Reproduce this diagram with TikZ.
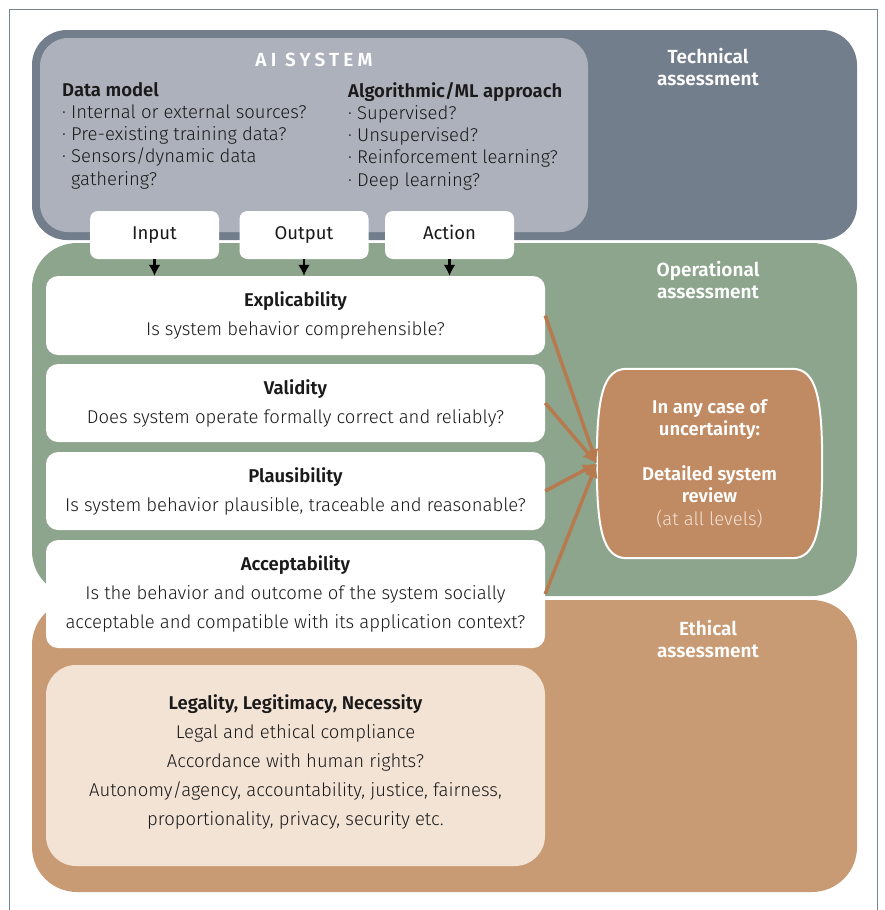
\documentclass[tikz,border=0pt]{standalone}
\usepackage{fontspec}
\setmainfont{Fira Sans}[UprightFont=* Light,BoldFont=* SemiBold]
\newfontfamily\plainfont{Fira Sans}
\usetikzlibrary{arrows.meta}

\definecolor{techgray}{HTML}{737E8C}
\definecolor{aigray}{HTML}{ADB1BC}
\definecolor{opgreen}{HTML}{8DA58D}
\definecolor{ethtan}{HTML}{C99B75}
\definecolor{ethlight}{HTML}{F3E3D5}
\definecolor{reviewbrown}{HTML}{C08A62}
\definecolor{arrowbrown}{HTML}{B77A4E}
\definecolor{framegray}{HTML}{7A8591}
\definecolor{textdark}{HTML}{1A1A1A}

\begin{document}
\begin{tikzpicture}[x=1pt,y=-1pt]
				\tikzstyle{panel}=[rectangle,draw=none,inner sep=0pt]
				\tikzstyle{whitebox}=[panel,fill=white,rounded corners=12pt,minimum width=499pt,align=center,text=textdark,font=\fontsize{18.5}{29}\selectfont]
				\tikzstyle{flowbox}=[panel,fill=white,rounded corners=8pt,minimum width=129pt,minimum height=48pt,text height=13pt,text depth=4pt,text=textdark,font=\fontsize{18.5}{20}\selectfont\plainfont]
				\tikzstyle{paneltitle}=[align=center,text=white,font=\fontsize{19}{22.5}\selectfont\bfseries]
				\tikzstyle{column}=[anchor=north west,align=left,inner sep=0pt,text=textdark,font=\fontsize{18.5}{22.2}\selectfont]
				\tikzstyle{feed}=[-{Latex[length=11pt,width=12pt]},line width=2.4pt]
				\tikzstyle{escalate}=[-{Latex[length=14pt,width=13pt]},line width=3.5pt,arrowbrown]
				\useasboundingbox (0,0) rectangle (884,910);
				\draw[framegray,line width=1.5pt] (9.5,910) -- (9.5,9.5) -- (877.5,9.5) -- (877.5,910);

				\node[panel,fill=techgray,rounded corners=35pt,minimum width=825pt,minimum height=210pt] (technical) at (444.5,135) {};
				\node[panel,fill=aigray,rounded corners=28pt,minimum width=548pt,minimum height=194pt] (aisystem) at (314,135) {};
				\node[panel,fill=opgreen,rounded corners=45pt,minimum width=825pt,minimum height=353pt] (operational) at (444.5,419.5) {};
				\node[panel,fill=ethtan,rounded corners=45pt,minimum width=825pt,minimum height=292pt] (ethical) at (444.5,746) {};

				\node[paneltitle] (techtitle) at (708,67) {Technical\\assessment};
				\node[paneltitle] (optitle) at (708,280) {Operational\\assessment};
				\node[paneltitle] (ethtitle) at (708,639) {Ethical\\assessment};

				\node[paneltitle,font=\fontsize{19}{20}\selectfont\bfseries\addfontfeature{LetterSpace=22}] (aititle) at (314,60) {AI SYSTEM};
				\node[column] (datamodel) at (62,82) {\textbf{Data model}\\· Internal or external sources?\\· Pre-existing training data?\\· Sensors/dynamic data\\\phantom{· }gathering?};
				\node[column] (approach) at (348,82) {\textbf{Algorithmic/ML approach}\\· Supervised?\\· Unsupervised?\\· Reinforcement learning?\\· Deep learning?};

				\node[flowbox] (input) at (154.5,235) {Input};
				\node[flowbox] (output) at (304,235) {Output};
				\node[flowbox] (action) at (449.5,235) {Action};

				\node[whitebox,minimum height=79pt] (explicability) at (295.5,315.5) {\textbf{Explicability}\\Is system behavior comprehensible?};
				\node[whitebox,minimum height=78pt] (validity) at (295.5,403) {\textbf{Validity}\\Does system operate formally correct and reliably?};
				\node[whitebox,minimum height=78pt] (plausibility) at (295.5,491) {\textbf{Plausibility}\\Is system behavior plausible, traceable and reasonable?};
				\node[whitebox,minimum height=108pt] (acceptability) at (295.5,594) {\textbf{Acceptability}\\Is the behavior and outcome of the system socially\\acceptable and compatible with its application context?};
				\node[whitebox,fill=ethlight,rounded corners=30pt,minimum height=201pt] (legality) at (295.5,765.5) {\textbf{Legality, Legitimacy, Necessity}\\Legal and ethical compliance\\Accordance with human rights?\\Autonomy/agency, accountability, justice, fairness,\\proportionality, privacy, security etc.\rule[-10pt]{0pt}{10pt}};

				% barrel outline of the review box, flat top and bottom
				\node[panel,minimum width=225pt,minimum height=189pt] (reviewshape) at (709.5,463.5) {};
				\filldraw[fill=reviewbrown,draw=white,line width=2pt] ([xshift=30pt]reviewshape.north west) -- ([xshift=-30pt]reviewshape.north east)
					.. controls ([xshift=-6pt]reviewshape.north east) and ([yshift=66pt]reviewshape.east) .. (reviewshape.east)
					.. controls ([yshift=-66pt]reviewshape.east) and ([xshift=-6pt]reviewshape.south east) .. ([xshift=-30pt]reviewshape.south east)
					-- ([xshift=30pt]reviewshape.south west)
					.. controls ([xshift=6pt]reviewshape.south west) and ([yshift=-66pt]reviewshape.west) .. (reviewshape.west)
					.. controls ([yshift=66pt]reviewshape.west) and ([xshift=6pt]reviewshape.north west) .. ([xshift=30pt]reviewshape.north west) -- cycle;
				\node[align=center,text=white,font=\fontsize{18.5}{22.5}\selectfont\bfseries] (review) at (reviewshape.center) {In any case of\\uncertainty:\\[22pt]Detailed system\\review\\{\mdseries\color{ethlight}(at all levels)}};

				\draw[feed] (input) -- (input |- explicability.north);
				\draw[feed] (output) -- (output |- explicability.north);
				\draw[feed] (action) -- (action |- explicability.north);
				\foreach \src in {explicability,validity,plausibility,acceptability}
					\draw[escalate] (\src.east) -- (reviewshape.west);
\end{tikzpicture}
\end{document}
